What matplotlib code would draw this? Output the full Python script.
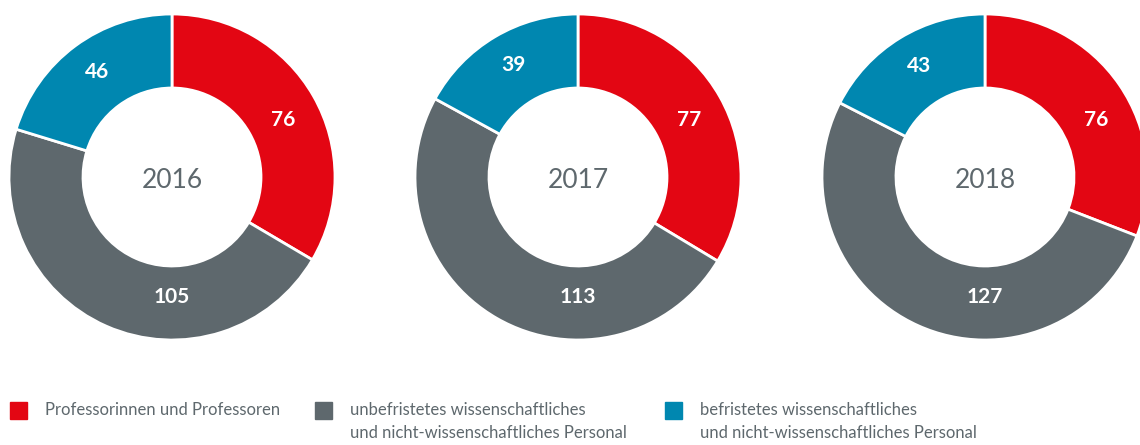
import numpy as np
import matplotlib.pyplot as plt
from matplotlib.patches import Rectangle

# Data
years = ["2016", "2017", "2018"]
professoren = [76, 77, 76]
unbefristet = [105, 113, 127]
befristet = [46, 39, 43]

labels = ["Professorinnen und Professoren",
          "unbefristetes wissenschaftliches\nund nicht-wissenschaftliches Personal",
          "befristetes wissenschaftliches\nund nicht-wissenschaftliches Personal"]
colors = ["#E30613", "#5E686D", "#0087B0"]
text_gray = "#5E686D"

plt.rcParams['font.family'] = ['Lato', 'DejaVu Sans']

fig = plt.figure(figsize=(11.4, 4.45), dpi=100)
ax = fig.add_axes([0, 0, 1, 1])

centers_x = [172, 578, 985]
cy = 445 - 177
R = 163
r_in = 89
mid = (R + r_in) / 2
red_angle = np.deg2rad(62)  # clockwise from top

for i, year in enumerate(years):
    vals = [professoren[i], unbefristet[i], befristet[i]]
    total = sum(vals)
    wedges, texts, autotexts = ax.pie(
        vals, colors=colors, startangle=90, counterclock=False,
        center=(centers_x[i], cy), radius=R,
        wedgeprops=dict(width=R - r_in, edgecolor="white", linewidth=2),
        autopct=lambda p, t=total: f"{round(p * t / 100)}",
        pctdistance=mid / R,
        textprops=dict(color="white", fontsize=15, fontweight="bold"))
    # value labels placed like in the original layout
    autotexts[0].set_position((centers_x[i] + mid * np.sin(red_angle),
                               cy + mid * np.cos(red_angle) - 2))
    autotexts[1].set_position((centers_x[i], cy - mid + 6))
    autotexts[2].set_position((autotexts[2].get_position()[0],
                               autotexts[2].get_position()[1] + 4))
    ax.text(centers_x[i], cy - 3, year, ha="center", va="center",
            fontsize=19, color=text_gray, fontweight="normal")

ax.set_xlim(0, 1140)
ax.set_ylim(0, 445)
ax.set_aspect("equal")
ax.axis("off")

# Legend
leg_x = [10, 315, 665]
for x, lab, col in zip(leg_x, labels, colors):
    ax.add_patch(Rectangle((x, 445 - 419), 17, 17, color=col, clip_on=False))
    ax.text(x + 35, 445 - 402, lab, ha="left", va="top", fontsize=12,
            color=text_gray, linespacing=1.5)

plt.savefig("out.png", dpi=100)
